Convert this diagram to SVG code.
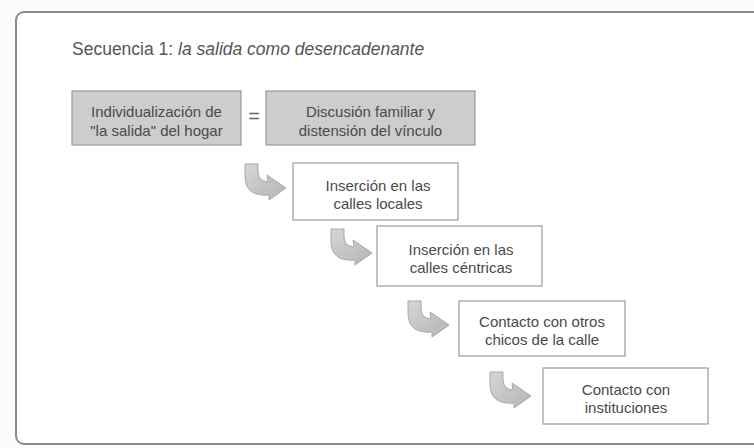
<svg xmlns="http://www.w3.org/2000/svg" width="754" height="448" viewBox="0 0 754 448">
<defs>
<linearGradient id="ag" x1="0" y1="0" x2="1" y2="1">
<stop offset="0" stop-color="#d6d6d6"/>
<stop offset="1" stop-color="#b4b4b4"/>
</linearGradient>
<path id="arr" d="M0,0 L13,0 L13,8 Q13,17 23,18 L22,11 L41,24 L24,36 L24,31 Q0,33 0,12 Z"/>
</defs>
<style>
.frame{fill:#ffffff;stroke:#8a8a8a;stroke-width:2}
.gbox{fill:#cdcdcd;stroke:#9a9a9a;stroke-width:1.2}
.wbox{fill:#ffffff;stroke:#9a9a9a;stroke-width:1.2}
.t{font-family:"Liberation Sans",Arial,sans-serif;font-size:15px;fill:#4a4a4a;text-anchor:middle}
.title{font-family:"Liberation Sans",Arial,sans-serif;font-size:17.5px;fill:#555}
.arrow{fill:url(#ag);stroke:#a8a8a8;stroke-width:1}
</style>
<rect x="0" y="0" width="754" height="448" fill="#fbfbf9"/>
<rect class="frame" x="16" y="12" width="760" height="432" rx="8"/>
<text class="title" x="72" y="55">Secuencia 1: <tspan font-style="italic">la salida como desencadenante</tspan></text>

<g id="connectors">
<text x="254" y="123" font-family="Liberation Sans, Arial, sans-serif" font-size="20" fill="#666" text-anchor="middle">=</text>
<use href="#arr" class="arrow" x="245" y="164"/>
<use href="#arr" class="arrow" x="331" y="229"/>
<use href="#arr" class="arrow" x="408" y="301"/>
<use href="#arr" class="arrow" x="490" y="372"/>
</g>

<g id="n1">
<rect class="gbox" x="72" y="91" width="169" height="54"/>
<text class="t" x="156.5" y="117">Individualización de</text>
<text class="t" x="156.5" y="136">"la salida" del hogar</text>
</g>
<g id="n2">
<rect class="gbox" x="266" y="91" width="209" height="54"/>
<text class="t" x="370.5" y="117">Discusión familiar y</text>
<text class="t" x="370.5" y="136">distensión del vínculo</text>
</g>
<g id="n3">
<rect class="wbox" x="293" y="163" width="165" height="57"/>
<text class="t" x="378" y="191">Inserción en las</text>
<text class="t" x="378" y="209">calles locales</text>
</g>
<g id="n4">
<rect class="wbox" x="377" y="226" width="165" height="60"/>
<text class="t" x="461" y="255">Inserción en las</text>
<text class="t" x="461" y="273">calles céntricas</text>
</g>
<g id="n5">
<rect class="wbox" x="459" y="301" width="166" height="55"/>
<text class="t" x="542" y="327">Contacto con otros</text>
<text class="t" x="542" y="345">chicos de la calle</text>
</g>
<g id="n6">
<rect class="wbox" x="543" y="368" width="165" height="56"/>
<text class="t" x="626" y="395">Contacto con</text>
<text class="t" x="626" y="413">instituciones</text>
</g>
</svg>
